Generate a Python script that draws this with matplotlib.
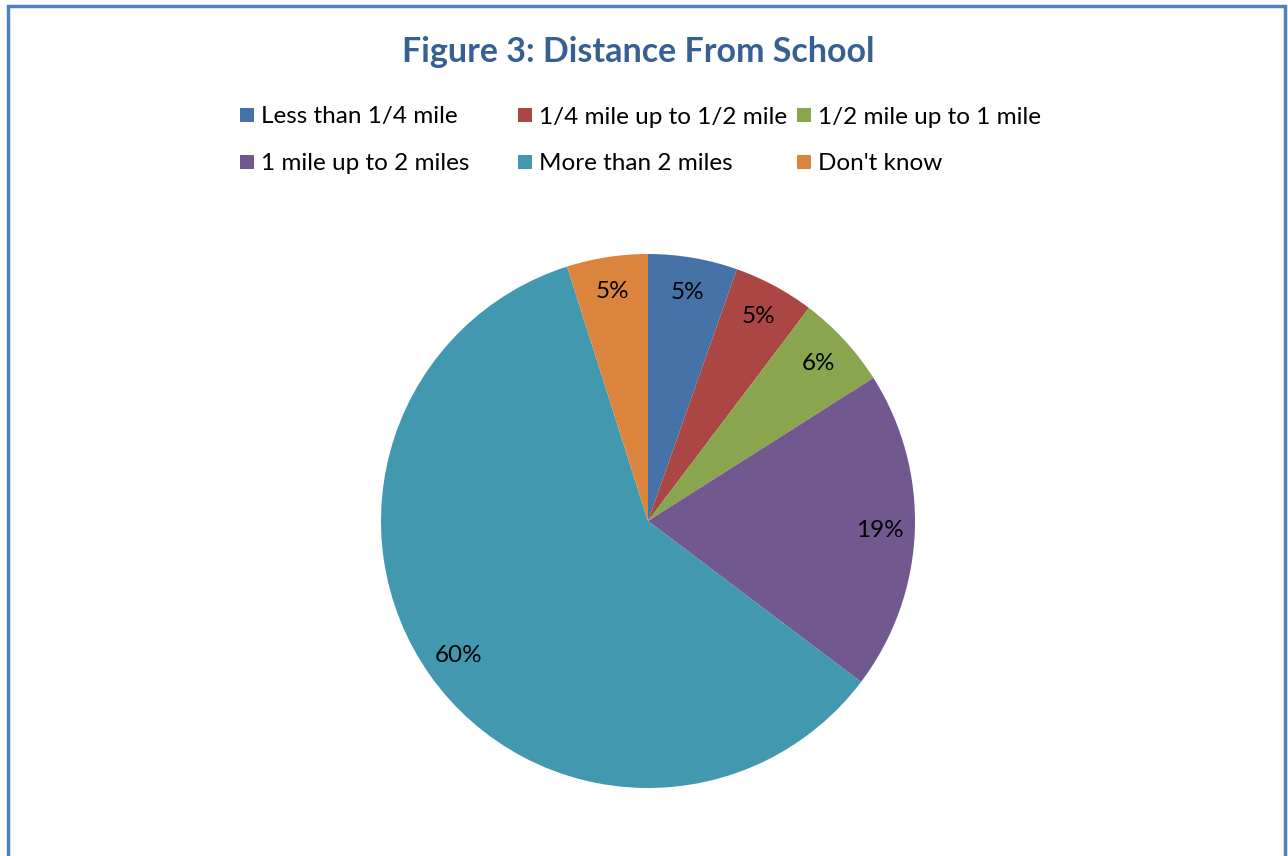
import matplotlib.pyplot as plt
from matplotlib.patches import Rectangle

plt.rcParams['font.family'] = ['Lato', 'DejaVu Sans']

labels = ["Less than 1/4 mile", "1/4 mile up to 1/2 mile", "1/2 mile up to 1 mile",
          "1 mile up to 2 miles", "More than 2 miles", "Don't know"]
values = [5.4, 4.9, 5.7, 19.3, 59.8, 4.9]
colors = ["#4572A7", "#AA4643", "#89A54E", "#71588F", "#4198AF", "#DB843D"]

W, H = 1288, 856
fig = plt.figure(figsize=(W / 100, H / 100), dpi=100)

# outer chart border
fig.patches.append(Rectangle((8 / W, -0.05), (1285 - 8) / W, 1.05 - 6 / H,
                             transform=fig.transFigure, fill=False,
                             edgecolor="#4F81BD", linewidth=2.5))

fig.text(638 / W, 1 - 52 / H, "Figure 3: Distance From School", ha="center", va="center",
         fontsize=24.5, fontweight="bold", color="#376092")

# legend laid out in a fixed 3-column grid like Excel
col_x = [240, 518, 797]
row_y = [115, 162]
for i, lab in enumerate(labels):
    x = col_x[i % 3]
    y = row_y[i // 3]
    fig.patches.append(Rectangle((x / W, 1 - (y + 7) / H), 14 / W, 14 / H,
                                 transform=fig.transFigure, facecolor=colors[i],
                                 edgecolor="none"))
    fig.text((x + 21) / W, 1 - (y + 2) / H, lab, ha="left", va="center", fontsize=17.5, color="black")

cx, cy, r = 648, 521, 267
ax = fig.add_axes([(cx - r) / W, (H - cy - r) / H, 2 * r / W, 2 * r / H])
wedges, texts, autotexts = ax.pie(values, colors=colors, startangle=90, counterclock=False,
                                  autopct="%.0f%%", pctdistance=0.87,
                                  wedgeprops=dict(linewidth=0),
                                  textprops=dict(fontsize=17.5, color="black"))
ax.set_aspect("equal")
ax.set_xlim(-1, 1)
ax.set_ylim(-1, 1)
ax.axis("off")

fig.savefig("out.png", dpi=100)
